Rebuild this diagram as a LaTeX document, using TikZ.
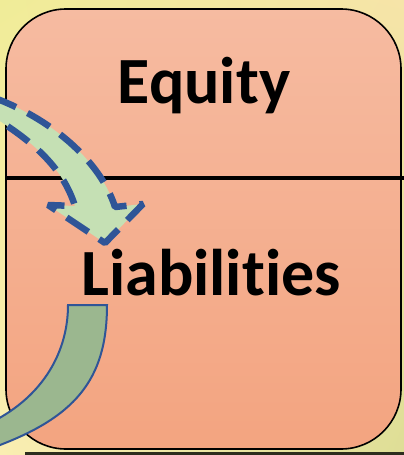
\documentclass[tikz,border=0pt]{standalone}
\usepackage{fontspec}
\setmainfont{Carlito}[Ligatures={NoCommon}]
\usetikzlibrary{shadings}
\definecolor{bgTL}{RGB}{240,236,152}
\definecolor{bgTR}{RGB}{246,228,168}
\definecolor{bgBL}{RGB}{250,238,178}
\definecolor{bgBR}{RGB}{222,222,150}
\definecolor{boxTop}{RGB}{246,187,161}
\definecolor{boxBot}{RGB}{243,164,128}
\definecolor{arrowBlue}{RGB}{47,85,151}
\definecolor{lightGreen}{RGB}{197,224,180}
\definecolor{oliveGreen}{RGB}{155,183,143}
\definecolor{darkLine}{RGB}{45,45,30}
\tikzset{
  boxlabel/.style={font=\bfseries\fontsize{66}{70}\selectfont, anchor=base, inner sep=0pt},
  dasharrow/.style={fill=lightGreen, draw=arrowBlue, line width=6.5pt, dash pattern=on 26pt off 13pt, line join=bevel},
  bandarrow/.style={fill=oliveGreen, draw=arrowBlue, line width=2pt},
}
\begin{document}
\begin{tikzpicture}[x=1pt,y=-1pt]
\useasboundingbox (0,0) rectangle (404,455);
\clip (0,0) rectangle (404,455);
\shade[upper left=bgTL, upper right=bgTR, lower left=bgBL, lower right=bgBR] (0,0) rectangle (404,455);
% box
\shade[rounded corners=60pt, top color=boxTop, bottom color=boxBot] (6,9) rectangle (401,449);
\draw[rounded corners=60pt, line width=1.6pt] (6,9) rectangle (401,449);
\coordinate (divL) at (6,178);
\coordinate (divR) at (405,178);
\draw[line width=3.2pt] (divL) -- (divR);
\coordinate (botL) at (25,453.5);
\coordinate (botR) at (405,453.5);
\draw[line width=3pt, darkLine] (botL) -- (botR);
% texts
\node[boxlabel] (eq) at (204,103) {Equity};
\node[boxlabel] (li) at (211,295) {Liabilities};
% dashed curved arrow
\path[dasharrow] (-8,97) .. controls (50,118) and (100,160) .. (115,207)
  -- (143,204) -- (105,243) -- (48,205) -- (75,206)
  .. controls (62,165) and (30,140) .. (-8,116);
% solid band
\path[bandarrow] (68,305) -- (107,305)
  .. controls (107,380) and (75,418) .. (-8,448)
  -- (-8,422)
  .. controls (45,395) and (68,350) .. (68,305) -- cycle;
\end{tikzpicture}
\end{document}
